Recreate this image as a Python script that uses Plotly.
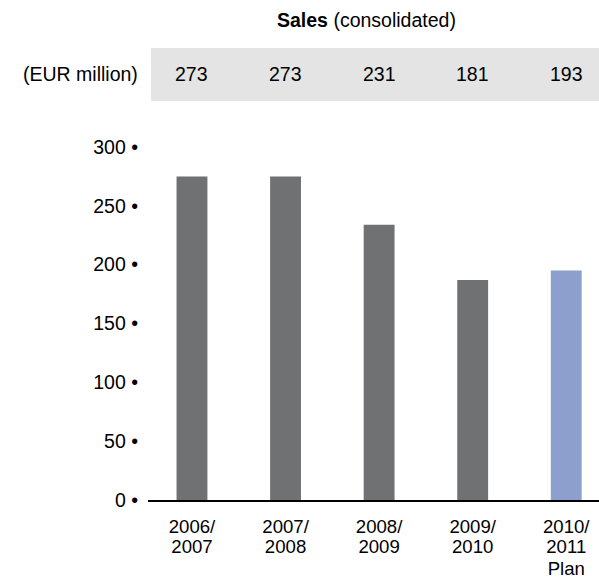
import plotly.graph_objects as go

line1 = ["2006/", "2007/", "2008/", "2009/", "2010/"]
line2 = ["2007", "2008", "2009", "2010", "2011"]
line3 = ["", "", "", "", "Plan"]
bar_heights = [275, 275, 234, 187, 195]
value_labels = ["273", "273", "231", "181", "193"]
bar_colors = ["#707173", "#707173", "#707173", "#707173", "#8c9fcd"]
y_ticks = [0, 50, 100, 150, 200, 250, 300]
y_tick_text = [f"{v} \u2022" for v in y_ticks]

FONT = "Liberation Sans, Arial, Helvetica, sans-serif"
FS = 19.5
XFS = 18.6
W, H = 599, 587
L, R, T, B = 148, 0, 147, 87
ph = H - T - B

xs = list(range(len(line1)))

fig = go.Figure()
fig.add_trace(go.Bar(x=xs, y=bar_heights, marker=dict(color=bar_colors, line=dict(width=0)),
                     width=0.33, hoverinfo="skip"))
# invisible helper traces so the extra label axes are drawn
for ax in ("x2", "x3"):
    fig.add_trace(go.Scatter(x=xs, y=[None] * len(xs), xaxis=ax, yaxis="y",
                             mode="markers", marker=dict(opacity=0), hoverinfo="skip"))

common_x = dict(showgrid=False, zeroline=False, ticks="", tickfont=dict(size=XFS), fixedrange=True)

fig.update_layout(
    width=W, height=H,
    margin=dict(l=L, r=R, t=T, b=B),
    paper_bgcolor="white", plot_bgcolor="white",
    showlegend=False,
    font=dict(family=FONT, size=FS, color="black"),
    xaxis=dict(range=[-0.47, 4.35], tickvals=xs, ticktext=line1,
               showline=True, linecolor="black", linewidth=2, ticklabelstandoff=9, **common_x),
    xaxis2=dict(range=[-0.47, 4.35], tickvals=xs, ticktext=line2, overlaying="x", anchor="y",
                side="bottom", matches="x", showline=False, ticklabelstandoff=33, **common_x),
    xaxis3=dict(range=[-0.47, 4.35], tickvals=xs, ticktext=line3, overlaying="x", anchor="y",
                side="bottom", matches="x", showline=False, ticklabelstandoff=55, **common_x),
    yaxis=dict(range=[0, 300], tickvals=y_ticks, ticktext=y_tick_text,
               showgrid=False, zeroline=False, showline=False, ticks="",
               ticklabelstandoff=9, tickfont=dict(size=FS), fixedrange=True),
)

def py(pix):
    return (H - B - pix) / ph

fig.add_shape(type="rect", xref="paper", yref="paper",
              x0=(151 - L) / (W - L - R), x1=1.0, y0=py(101), y1=py(48),
              fillcolor="#e3e4e3", line=dict(width=0), layer="below")

for xi, lab in zip(xs, value_labels):
    fig.add_annotation(x=xi, y=py(74), xref="x", yref="paper", text=lab, showarrow=False,
                       font=dict(size=FS), xanchor="center", yanchor="middle")

fig.add_annotation(x=(80 - L) / (W - L - R), y=py(74), xref="paper", yref="paper",
                   text="(EUR million)", showarrow=False, font=dict(size=FS),
                   xanchor="center", yanchor="middle")

fig.add_annotation(x=(366 - L) / (W - L - R), y=py(20), xref="paper", yref="paper",
                   text="<b>Sales</b> (consolidated)", showarrow=False, font=dict(size=FS),
                   xanchor="center", yanchor="middle")

fig.write_html("out.html", config={"displayModeBar": False},
               post_script="document.body.style.margin='0px';document.body.style.overflow='hidden';")
